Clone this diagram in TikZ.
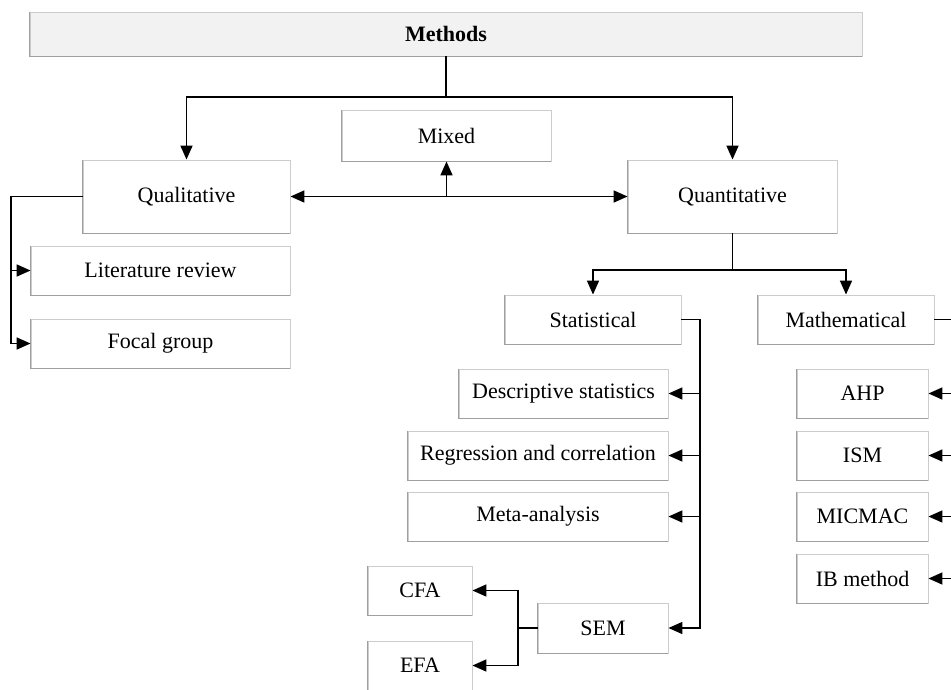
\documentclass[tikz,border=0pt]{standalone}
\usepackage{fontspec}
\setmainfont{Liberation Serif}
\usetikzlibrary{arrows.meta}
\begin{document}
\begin{tikzpicture}[x=1pt,y=-1pt,
  box/.style={draw=gray!40, line width=0.9pt, fill=white, inner sep=0pt,
    font=\fontsize{22}{26}\selectfont},
  edge/.style={draw=gray!75, line width=1pt},
  conn/.style={line width=1.7pt, black},
  arr/.style={conn, -{Triangle[length=14pt,width=12pt]}},
  darr/.style={conn, {Triangle[length=14pt,width=12pt]}-{Triangle[length=14pt,width=12pt]}}]
\useasboundingbox (0,0) rectangle (951,689);
\clip (0,0) rectangle (951,689);
% boxes
\node[box, fill=gray!10, minimum width=832pt, minimum height=44pt, font=\fontsize{22}{26}\selectfont\bfseries] (methods) at (446,34) {Methods};
\node[box, minimum width=209pt, minimum height=51pt] (mixed) at (446.5,135.5) {Mixed};
\node[box, minimum width=207pt, minimum height=73pt] (qual) at (186.5,196.5) {Qualitative};
\node[box, minimum width=209pt, minimum height=73pt] (quant) at (732.5,196.5) {Quantitative};
\node[box, minimum width=259pt, minimum height=49pt] (lit) at (160.5,270.5) {Literature review};
\node[box, minimum width=259pt, minimum height=49pt] (focal) at (160.5,343.5) {Focal group};
\node[box, minimum width=176pt, minimum height=49pt] (stat) at (593,319.5) {Statistical};
\node[box, minimum width=176pt, minimum height=49pt] (math) at (846,319.5) {Mathematical};
\node[box, minimum width=209pt, minimum height=49pt] (desc) at (563.5,393.5) {Descriptive statistics};
\node[box, minimum width=260pt, minimum height=49pt] (reg) at (538,455.5) {Regression and correlation};
\node[box, minimum width=260pt, minimum height=49pt] (meta) at (538,516.5) {Meta-analysis};
\node[box, minimum width=130pt, minimum height=50pt] (sem) at (603,628) {SEM};
\node[box, minimum width=104pt, minimum height=49pt] (cfa) at (420,590.5) {CFA};
\node[box, minimum width=104pt, minimum height=49pt] (efa) at (420,665.5) {EFA};
\node[box, minimum width=131pt, minimum height=49pt] (ahp) at (862.5,393.5) {AHP};
\node[box, minimum width=131pt, minimum height=49pt] (ism) at (862.5,455.5) {ISM};
\node[box, minimum width=131pt, minimum height=49pt] (micmac) at (862.5,516.5) {MICMAC};
\node[box, minimum width=131pt, minimum height=49pt] (ib) at (862.5,578.5) {IB method};
% darker left and bottom edges
\foreach \n in {methods,mixed,qual,quant,lit,focal,stat,math,desc,reg,meta,sem,cfa,efa,ahp,ism,micmac,ib}
  \draw[edge] (\n.north west) -- (\n.south west) -- (\n.south east);
% junction coordinates
\coordinate (j1) at (446,97);
\coordinate (ql) at (11,196.5);
\coordinate (j2) at (732.5,270);
\coordinate (sj) at (700,319.5);
\coordinate (mj) at (955,319.5);
\coordinate (ej) at (518,628);
% connectors
\draw[conn] (methods.south) -- (j1);
\draw[arr] (j1) -| (qual.north);
\draw[arr] (j1) -| (quant.north);
\draw[darr] (qual.east) -- (quant.west);
\draw[arr] (mixed.south |- qual.east) -- (mixed.south);
\draw[arr] (qual.west) -- (ql) |- (focal.west);
\draw[arr] (ql |- lit.west) -- (lit.west);
\draw[conn] (quant.south) -- (j2);
\draw[arr] (j2) -| (stat.north);
\draw[arr] (j2) -| (math.north);
\draw[arr] (stat.east) -- (sj) |- (sem.east);
\draw[arr] (sj |- desc.east) -- (desc.east);
\draw[arr] (sj |- reg.east) -- (reg.east);
\draw[arr] (sj |- meta.east) -- (meta.east);
\draw[conn] (math.east) -- (mj) -- (mj |- ib.east);
\draw[arr] (mj |- ahp.east) -- (ahp.east);
\draw[arr] (mj |- ism.east) -- (ism.east);
\draw[arr] (mj |- micmac.east) -- (micmac.east);
\draw[arr] (mj |- ib.east) -- (ib.east);
\draw[conn] (sem.west) -- (ej);
\draw[arr] (ej) |- (cfa.east);
\draw[arr] (ej) |- (efa.east);
\end{tikzpicture}
\end{document}
